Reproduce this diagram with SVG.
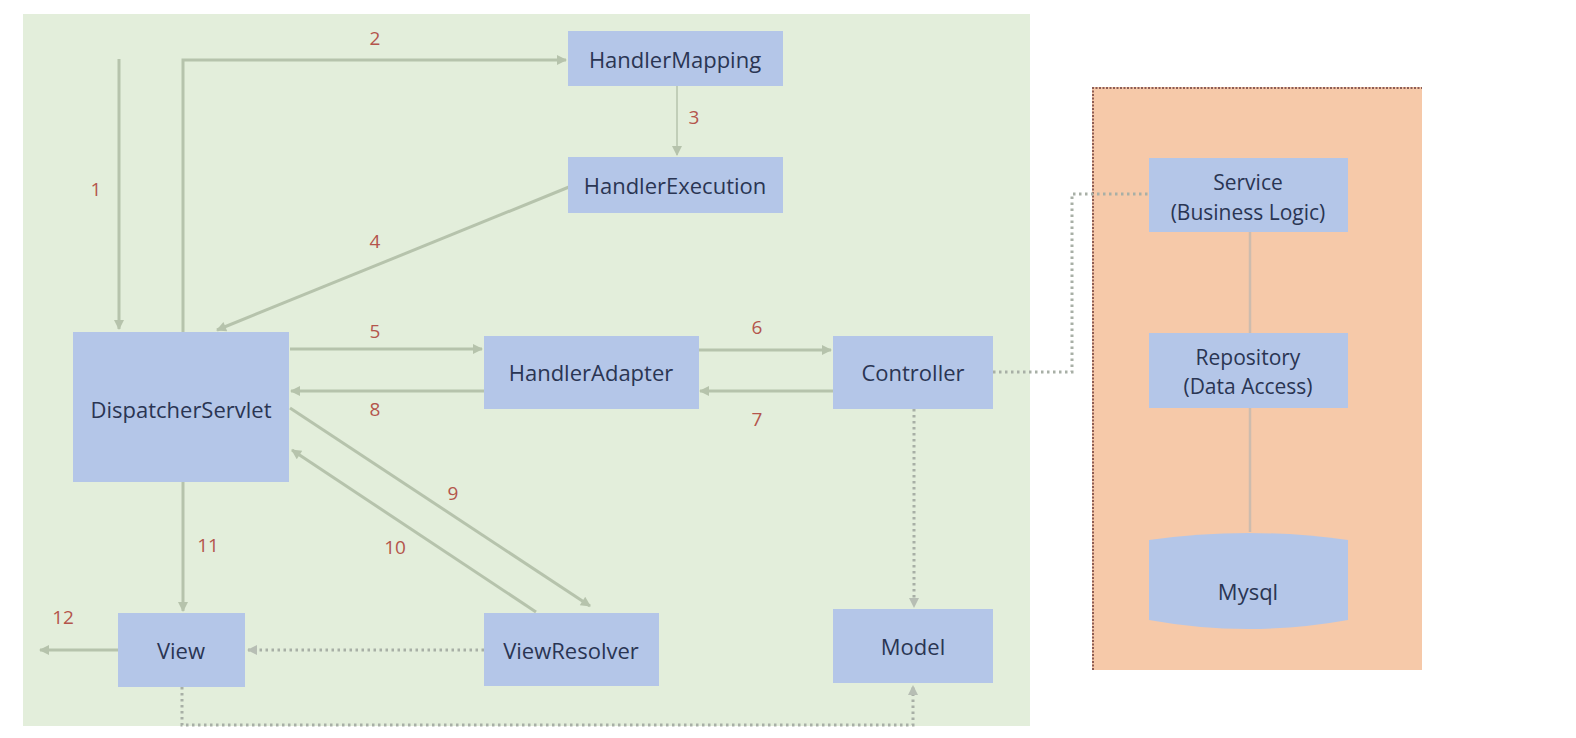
<svg xmlns="http://www.w3.org/2000/svg" width="1576" height="738" viewBox="0 0 1576 738">
<style>
.node{fill:#b4c6e8}
.nt{font-family:"Open Sans","Noto Sans",sans-serif;font-size:22px;fill:#2a3553;text-anchor:middle;dominant-baseline:central}
.nt2{font-size:21px}
.lb{font-family:"Open Sans","Noto Sans",sans-serif;font-size:19px;fill:#b4554c;text-anchor:middle;dominant-baseline:central}
.c{fill:none;stroke:#b6c3ac;stroke-width:3}
.thin{stroke-width:1.5}
.dot{fill:none;stroke:#a8afa6;stroke-width:3;stroke-dasharray:2.5 3.5}
</style>
<defs>
<marker id="ah" viewBox="0 0 10 10" refX="9" refY="5" markerWidth="12" markerHeight="10" markerUnits="userSpaceOnUse" orient="auto">
<path d="M0,0 L10,5 L0,10 z" fill="#b6c3ac"/>
</marker>
<marker id="ahd" viewBox="0 0 10 10" refX="9" refY="5" markerWidth="11" markerHeight="10" markerUnits="userSpaceOnUse" orient="auto">
<path d="M0,0 L10,5 L0,10 z" fill="#b7beb4"/>
</marker>
</defs>
<rect width="1576" height="738" fill="#ffffff"/>
<rect x="23" y="14" width="1007" height="712" fill="#e3eedb"/>
<rect x="1092" y="87" width="330" height="583" fill="#f6c9a9"/>
<path d="M1093,670 V88 H1422" fill="none" stroke="#8e5d55" stroke-width="2" stroke-dasharray="2 1.5"/>

<g id="connectors">
<path class="c" d="M119,59 V329" marker-end="url(#ah)"/>
<path class="c" d="M183,332 V60 H566" marker-end="url(#ah)"/>
<path class="c thin" d="M677,86 V155" marker-end="url(#ah)"/>
<path class="c" d="M569,187 L217,330" marker-end="url(#ah)"/>
<path class="c" d="M290,349 H482" marker-end="url(#ah)"/>
<path class="c" d="M699,350 H831" marker-end="url(#ah)"/>
<path class="c" d="M833,391 H700" marker-end="url(#ah)"/>
<path class="c" d="M484,391 H291" marker-end="url(#ah)"/>
<path class="c" d="M290,408 L590,606" marker-end="url(#ah)"/>
<path class="c" d="M536,612 L292,450" marker-end="url(#ah)"/>
<path class="c" d="M183,482 V611" marker-end="url(#ah)"/>
<path class="c" d="M118,650 H40" marker-end="url(#ah)"/>
<path class="dot" d="M484,650 H248" marker-end="url(#ahd)"/>
<path class="dot" d="M914,409 V607" marker-end="url(#ahd)"/>
<path class="dot" d="M182,687 V725 H913 V686" marker-end="url(#ahd)"/>
<path class="dot" d="M993,372 H1072 V194 H1148"/>
<path d="M1250,232 V333 M1250,408 V532" fill="none" stroke="#cdbcae" stroke-width="2.5"/>
</g>

<g id="labels">
<text class="lb" x="96" y="189">1</text>
<text class="lb" x="375" y="38">2</text>
<text class="lb" x="694" y="117">3</text>
<text class="lb" x="375" y="241">4</text>
<text class="lb" x="375" y="331">5</text>
<text class="lb" x="757" y="327">6</text>
<text class="lb" x="757" y="419">7</text>
<text class="lb" x="375" y="409">8</text>
<text class="lb" x="453" y="493">9</text>
<text class="lb" x="395" y="547">10</text>
<text class="lb" x="208" y="545">11</text>
<text class="lb" x="63" y="617">12</text>
</g>

<g id="HandlerMapping"><rect class="node" x="568" y="31" width="215" height="55"/><text class="nt" x="675" y="59">HandlerMapping</text></g>
<g id="HandlerExecution"><rect class="node" x="568" y="157" width="215" height="56"/><text class="nt" x="675" y="185">HandlerExecution</text></g>
<g id="DispatcherServlet"><rect class="node" x="73" y="332" width="216" height="150"/><text class="nt" x="181" y="409">DispatcherServlet</text></g>
<g id="HandlerAdapter"><rect class="node" x="484" y="336" width="215" height="73"/><text class="nt" x="591" y="372">HandlerAdapter</text></g>
<g id="Controller"><rect class="node" x="833" y="336" width="160" height="73"/><text class="nt" x="913" y="372">Controller</text></g>
<g id="View"><rect class="node" x="118" y="613" width="127" height="74"/><text class="nt" x="181" y="650">View</text></g>
<g id="ViewResolver"><rect class="node" x="484" y="613" width="175" height="73"/><text class="nt" x="571" y="650">ViewResolver</text></g>
<g id="Model"><rect class="node" x="833" y="609" width="160" height="74"/><text class="nt" x="913" y="646">Model</text></g>
<g id="Service"><rect class="node" x="1149" y="158" width="199" height="74"/><text class="nt nt2" x="1248" y="182">Service</text><text class="nt nt2" x="1248" y="212">(Business Logic)</text></g>
<g id="Repository"><rect class="node" x="1149" y="333" width="199" height="75"/><text class="nt nt2" x="1248" y="357">Repository</text><text class="nt nt2" x="1248" y="386">(Data Access)</text></g>
<g id="Mysql"><path class="node" d="M1149,540 Q1248,526 1348,540 V620 Q1248,638 1149,620 Z"/><text class="nt" x="1248" y="591">Mysql</text></g>
</svg>
